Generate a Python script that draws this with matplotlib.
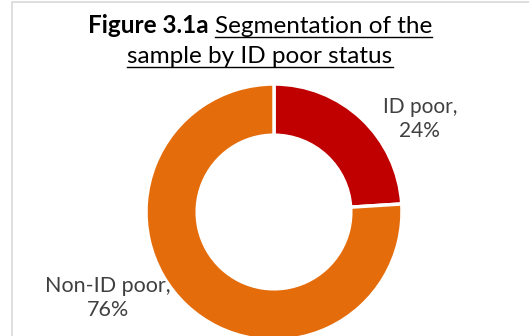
import matplotlib
matplotlib.use("Agg")
import matplotlib.pyplot as plt
from matplotlib.patches import Rectangle

labels = ["ID poor", "Non-ID poor"]
shares = [24, 76]
colors = ["#C00000", "#E46C0A"]

W, H = 529, 336
fig = plt.figure(figsize=(W / 100, H / 100), dpi=100)
plt.rcParams['font.family'] = ['Lato', 'DejaVu Sans']

# light grey chart frame (cut off on right and bottom)
fig.patches.append(Rectangle((12 / W, -0.1), 1.2, (H - 2) / H + 0.1, transform=fig.transFigure,
                             fill=False, edgecolor="#D9D9D9", linewidth=1.2))

# donut, centre (274, 212) px from top-left, radius 128 px
cx, cy, r = 274, 212, 128
ax = fig.add_axes([(cx - r) / W, (H - cy - r) / H, 2 * r / W, 2 * r / H])
ax.pie(shares, colors=colors, startangle=90, counterclock=False, radius=1,
       wedgeprops=dict(width=0.4, edgecolor="white", linewidth=2.5))
ax.set_xlim(-1, 1)
ax.set_ylim(-1, 1)
ax.set_aspect("equal")
ax.axis("off")

ax.text(1.14, 0.73, f"{labels[0]},\n{shares[0]}%", ha="center", va="center",
        fontsize=15, color="#404040", linespacing=1.25, clip_on=False)
ax.text(-1.30, -0.67, f"{labels[1]},\n{shares[1]}%", ha="center", va="center",
        fontsize=15.5, color="#404040", linespacing=1.25, clip_on=False)

# title with underlined parts
fig.canvas.draw()
rend = fig.canvas.get_renderer()
tsize = 17.5


def width_px(s, weight):
    t = fig.text(0, 0, s, fontsize=tsize, fontweight=weight)
    w = t.get_window_extent(rend).width
    t.remove()
    return w


def underline(t, y_px):
    bb = t.get_window_extent(rend)
    fig.add_artist(plt.Line2D([bb.x0 / W, bb.x1 / W], [(H - y_px) / H] * 2,
                              transform=fig.transFigure, color="black", linewidth=1))


center = 260
part1, part2 = "Figure 3.1a ", "Segmentation of the"
w1, w2 = width_px(part1, "bold"), width_px(part2, "normal")
x0 = center - (w1 + w2) / 2
base1 = 33
fig.text(x0 / W, (H - base1) / H, part1, fontsize=tsize, fontweight="bold", va="baseline")
t2 = fig.text((x0 + w1) / W, (H - base1) / H, part2, fontsize=tsize, va="baseline")
base2 = 63
t3 = fig.text(center / W, (H - base2) / H, "sample by ID poor status", fontsize=tsize,
              ha="center", va="baseline")
fig.canvas.draw()
underline(t2, base1 + 4)
underline(t3, base2 + 4)

fig.savefig("out.png", dpi=100)
